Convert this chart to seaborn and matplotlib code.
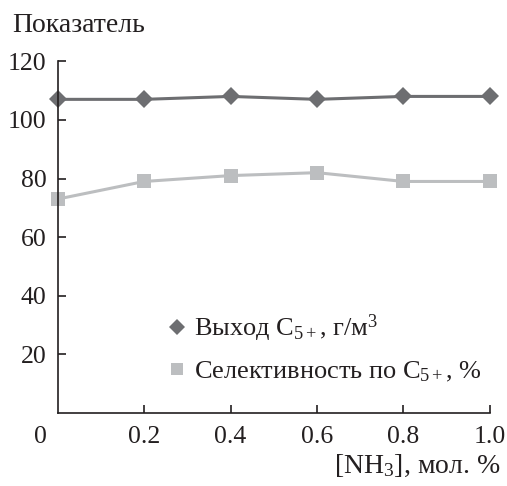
import matplotlib
matplotlib.use("Agg")
import matplotlib.pyplot as plt
import matplotlib.transforms as mtransforms
from matplotlib.lines import Line2D
import seaborn as sns
import pandas as pd

x_vals = [0.0, 0.2, 0.4, 0.6, 0.8, 1.0]
yield_c5 = [107, 107, 108, 107, 108, 108]
select_c5 = [73, 79, 81, 82, 79, 79]
x_ticks = [0.0, 0.2, 0.4, 0.6, 0.8, 1.0]
x_ticklabels = ["0", "0.2", "0.4", "0.6", "0.8", "1.0"]
y_ticks = [20, 40, 60, 80, 100, 120]
label_yield = "Выход C$_{5+}$, г/м$^3$"
label_sel = "Селективность по C$_{5+}$, %"

sns.set_style("ticks")
plt.rcParams["font.family"] = ["Liberation Serif", "DejaVu Serif"]
plt.rcParams["mathtext.fontset"] = "custom"
plt.rcParams["mathtext.rm"] = "Liberation Serif"
plt.rcParams["mathtext.it"] = "Liberation Serif:italic"
plt.rcParams["mathtext.bf"] = "Liberation Serif:bold"

df = pd.DataFrame({"x": x_vals, "yield": yield_c5, "sel": select_c5})

fig = plt.figure(figsize=(5.07, 4.86), dpi=100)
ax = fig.add_axes([0.114, 0.150, 0.852, 0.724])

dark = "#6d6e71"
light = "#bcbec0"
txt = "#231f20"
sns.lineplot(data=df, x="x", y="yield", ax=ax, color=dark, lw=2.2,
             marker="D", markersize=9, markeredgewidth=0, legend=False, clip_on=False)
sns.lineplot(data=df, x="x", y="sel", ax=ax, color=light, lw=2.2,
             marker="s", markersize=10, markeredgewidth=0, legend=False, clip_on=False)

ax.set_xlim(0, 1.0)
ax.set_ylim(0, 120)
ax.set_xticks(x_ticks)
ax.set_xticklabels(x_ticklabels)
ax.set_yticks(y_ticks)
ax.set_xlabel("")
ax.set_ylabel("")
for s in ["top", "right"]:
    ax.spines[s].set_visible(False)
for s in ["left", "bottom"]:
    ax.spines[s].set_color(txt)
    ax.spines[s].set_linewidth(1.2)
ax.tick_params(axis="both", direction="in", length=6, width=1.2, color=txt,
               labelsize=18.5, labelcolor=txt, pad=9)
ax.tick_params(axis="y", pad=8)

lbl0 = ax.get_xticklabels()[0]
lbl0.set_transform(lbl0.get_transform() + mtransforms.ScaledTranslation(-17 / 100, 0, fig.dpi_scale_trans))
ax.get_xticklines()[0].set_visible(False)

handles = [
    Line2D([], [], color=dark, marker="D", markersize=8, markeredgewidth=0, linestyle="none"),
    Line2D([], [], color=light, marker="s", markersize=9, markeredgewidth=0, linestyle="none"),
]
leg = ax.legend(handles, [label_yield, label_sel], loc="lower left", bbox_to_anchor=(0.19, 0.015),
                frameon=False, fontsize=19, handletextpad=0.15, labelspacing=0.6,
                handlelength=1.0)
for t in leg.get_texts():
    t.set_color(txt)

fig.text(12 / 507, 1 - 25 / 486, "Показатель", fontsize=20, color=txt, va="center", ha="left")
fig.text(500 / 507, 1 - 466 / 486, "[NH$_3$], мол. %", fontsize=20, color=txt, va="center", ha="right")

fig.savefig("out.png", dpi=100)
